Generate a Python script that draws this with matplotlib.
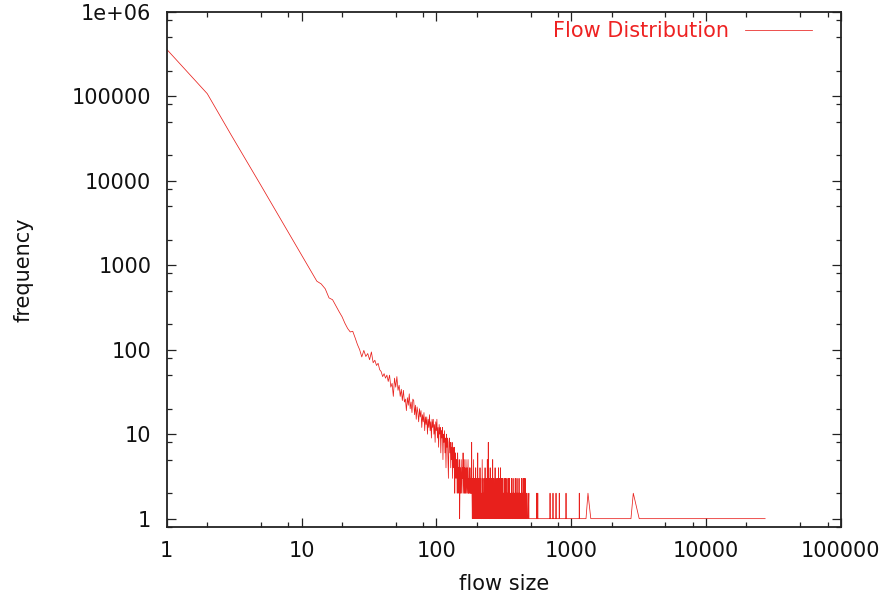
import numpy as np
import matplotlib
matplotlib.use("Agg")
import matplotlib.pyplot as plt
from matplotlib.ticker import LogLocator, FixedLocator, FixedFormatter, NullFormatter

# ---- data: frequency of each flow size ----
# flow sizes 1..150
freq_1_150 = [
    359000, 107000, 35000, 16100, 8800, 5350, 3510, 2430, 1770, 1320,
    1020, 806, 646, 600, 525, 410, 390, 330, 282, 245,
    205, 178, 162, 165, 138, 115, 100, 82, 98, 83,
    90, 76, 94, 70, 75, 65, 69, 58, 55, 48,
    52, 46, 50, 42, 50, 36, 40, 28, 46, 36,
    48, 33, 38, 28, 34, 25, 33, 24, 26, 19,
    27, 22, 30, 20, 24, 18, 26, 25, 17, 22,
    15, 21, 18, 14, 20, 16, 19, 12, 17, 14,
    18, 11, 16, 13, 16, 10, 15, 12, 17, 11,
    14, 9, 15, 12, 15, 10, 13, 8, 14, 11,
    15, 9, 12, 7, 13, 10, 12, 6, 11, 9,
    12, 5, 10, 8, 11, 6, 9, 4, 10, 7,
    9, 5, 3, 8, 9, 6, 8, 4, 7, 5,
    8, 3, 7, 6, 4, 7, 2, 5, 6, 3,
    5, 4, 2, 6, 3, 4, 2, 5, 1, 3,
]
# flow sizes 151..470
freq_151_470 = [
    4, 2, 5, 3, 2, 4, 3, 6, 2, 3, 5, 2, 4, 3, 2, 5, 3, 2, 4, 2,
    3, 5, 2, 3, 2, 4, 3, 2, 3, 2, 4, 2, 8,
    2, 1, 3, 1, 2, 5, 1, 2, 1, 3, 2, 1, 4, 1, 2, 1, 3, 1, 2, 6,
    1, 2, 1, 3, 1, 2, 1, 4, 1, 2, 3, 1, 1, 2, 1, 5, 2, 1, 3, 1,
    2, 1, 1, 3, 2, 1, 4, 1, 2, 1, 1, 3, 1, 2, 1, 5, 1, 2, 1, 8,
    1, 2, 1, 3, 1, 1, 2, 4, 1, 2, 1, 1, 3, 1, 2, 1, 2, 1, 5, 1,
    1, 2, 1, 3, 1, 2, 1, 1, 2, 4, 1, 1, 2, 1, 3, 1, 2, 1, 1, 2,
    1, 3, 1, 2, 1, 1, 4, 1, 2, 1, 3, 1, 1, 2, 1, 4, 1, 2, 1, 1,
    3, 1, 2, 1, 1, 2, 1, 3, 1, 1, 2, 1, 2, 1, 1, 3, 1, 2, 1, 1,
    2, 1, 3, 1, 1, 2, 1, 1, 2, 1, 3, 1, 2, 1, 1, 2, 1, 1, 3, 1,
    1, 2, 1, 1, 2, 1, 3, 1, 1, 2, 1, 1, 1, 2, 1, 2, 1, 3, 1, 1,
    2, 1, 1, 1, 2, 1, 1, 3, 1, 2, 1, 1, 2, 1, 1, 1, 2, 1, 2, 1,
    1, 3, 1, 1, 2, 1, 1, 1, 2, 1, 1, 2, 1, 3, 1, 1, 1, 2, 1, 1,
    2, 1, 1, 1, 2, 1, 1, 3, 1, 1, 2, 1, 1, 1, 2, 1, 1, 1, 2, 1,
    1, 1, 2, 1, 1, 3, 1, 1, 1, 2, 1, 1, 1, 2, 1, 1, 3, 1, 1, 1,
    2, 1, 1, 1, 3, 1, 1, 2, 1, 1, 1, 1, 3, 1, 1, 2, 1, 1, 1, 1,
    2, 1, 1, 1, 1, 1, 2,
]
# sparse tail (sizes that occurred beyond 470)
tail_size = [475, 481, 486, 487, 493, 502, 511, 524, 538, 555, 556, 557,
             565, 566, 567, 612, 650, 697, 698, 699, 733, 734, 735,
             772, 773, 774, 816, 817, 818, 870, 916, 917, 918, 1010,
             1149, 1150, 1151, 1290, 1334, 1400, 1520, 1800, 2150,
             2780, 2893, 3200, 4100, 5600, 8300, 12500, 18000, 27500]
tail_freq = [1, 1, 2, 1, 1, 1, 1, 1, 1, 1, 2, 1,
             1, 2, 1, 1, 1, 1, 2, 1, 1, 2, 1,
             1, 2, 1, 1, 2, 1, 1, 1, 2, 1, 1,
             1, 2, 1, 1, 2, 1, 1, 1, 1,
             1, 2, 1, 1, 1, 1, 1, 1, 1]

y_ticks = [1, 10, 100, 1000, 10000, 100000, 1000000]
y_tick_labels = ["1", "10", "100", "1000", "10000", "100000", "1e+06"]
x_ticks = [1, 10, 100, 1000, 10000, 100000]
x_tick_labels = ["1", "10", "100", "1000", "10000", "100000"]

size = np.concatenate([np.arange(1, 1 + len(freq_1_150)),
                       np.arange(151, 151 + len(freq_151_470)),
                       np.array(tail_size)])
freq = np.concatenate([freq_1_150, freq_151_470, tail_freq])

# ---- figure ----
plt.rcParams['font.family'] = ['DejaVu Sans']
W, H = 889, 606
fig = plt.figure(figsize=(W / 100, H / 100), dpi=100)
L, R, T, B = 166.7, 840.7, 11.7, 527.3
ax = fig.add_axes([L / W, 1 - B / H, (R - L) / W, (B - T) / H])

red = '#ee2222'
ax.plot(size, freq, color='#e8201c', lw=0.55, label='Flow Distribution')

ax.set_xscale('log')
ax.set_yscale('log')
ax.set_xlim(1, 100000)
ax.set_ylim(0.79, 1e6)

ax.xaxis.set_major_locator(FixedLocator(x_ticks))
ax.xaxis.set_major_formatter(FixedFormatter(x_tick_labels))
ax.yaxis.set_major_locator(FixedLocator(y_ticks))
ax.yaxis.set_major_formatter(FixedFormatter(y_tick_labels))
ax.xaxis.set_minor_locator(LogLocator(base=10, subs=[2, 5, 8], numticks=20))
ax.yaxis.set_minor_locator(LogLocator(base=10, subs=[2, 5, 8], numticks=20))
ax.xaxis.set_minor_formatter(NullFormatter())
ax.yaxis.set_minor_formatter(NullFormatter())

fs = 15
ax.tick_params(which='both', direction='in', top=True, right=True,
               colors='#222222', labelcolor='#111111', labelsize=fs)
ax.tick_params(which='major', length=6.5, width=0.9)
ax.tick_params(which='minor', length=3.6, width=0.9)
ax.tick_params(axis='x', which='major', pad=10)
ax.tick_params(axis='y', which='major', pad=11)
for s in ax.spines.values():
    s.set_color('#222222')
    s.set_linewidth(1.3)

ax.set_xlabel('flow size', fontsize=fs, color='#111111', labelpad=9)
ax.set_ylabel('frequency', fontsize=fs, color='#111111', labelpad=28)

leg = ax.legend(loc='center right', bbox_to_anchor=(812 / W, 1 - 31 / H),
                bbox_transform=fig.transFigure, frameon=False,
                markerfirst=False, fontsize=fs, labelcolor=red,
                handlelength=3.2, handletextpad=0.8, borderpad=0,
                borderaxespad=0)

fig.savefig('out.png', dpi=100)
